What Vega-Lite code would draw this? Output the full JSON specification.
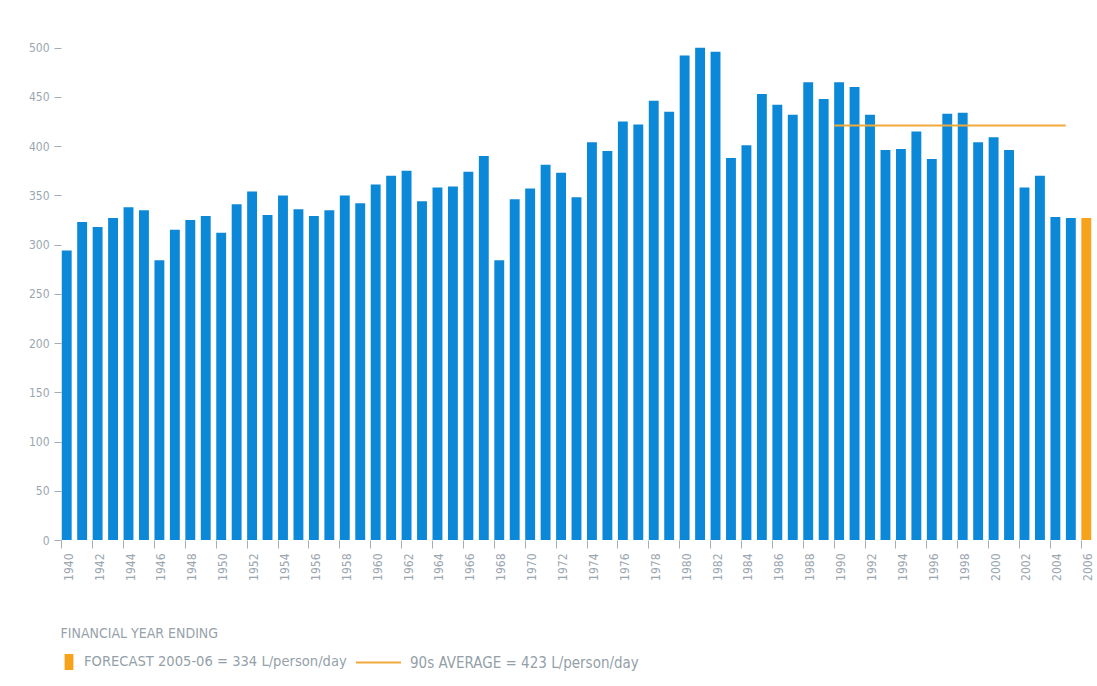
{
  "$schema": "https://vega.github.io/schema/vega-lite/v6.json",
  "width": 1031,
  "height": 512,
  "autosize": "none",
  "padding": {"left": 61, "top": 28, "right": 5, "bottom": 146},
  "background": "white",
  "config": {
    "view": {"stroke": null},
    "font": "Liberation Sans Narrow, DejaVu Sans Condensed, sans-serif"
  },
  "datasets": {
    "usage": [
      {"year": "1940", "litres": 294, "type": "Actual"},
      {"year": "1941", "litres": 323, "type": "Actual"},
      {"year": "1942", "litres": 318, "type": "Actual"},
      {"year": "1943", "litres": 327, "type": "Actual"},
      {"year": "1944", "litres": 338, "type": "Actual"},
      {"year": "1945", "litres": 335, "type": "Actual"},
      {"year": "1946", "litres": 284, "type": "Actual"},
      {"year": "1947", "litres": 315, "type": "Actual"},
      {"year": "1948", "litres": 325, "type": "Actual"},
      {"year": "1949", "litres": 329, "type": "Actual"},
      {"year": "1950", "litres": 312, "type": "Actual"},
      {"year": "1951", "litres": 341, "type": "Actual"},
      {"year": "1952", "litres": 354, "type": "Actual"},
      {"year": "1953", "litres": 330, "type": "Actual"},
      {"year": "1954", "litres": 350, "type": "Actual"},
      {"year": "1955", "litres": 336, "type": "Actual"},
      {"year": "1956", "litres": 329, "type": "Actual"},
      {"year": "1957", "litres": 335, "type": "Actual"},
      {"year": "1958", "litres": 350, "type": "Actual"},
      {"year": "1959", "litres": 342, "type": "Actual"},
      {"year": "1960", "litres": 361, "type": "Actual"},
      {"year": "1961", "litres": 370, "type": "Actual"},
      {"year": "1962", "litres": 375, "type": "Actual"},
      {"year": "1963", "litres": 344, "type": "Actual"},
      {"year": "1964", "litres": 358, "type": "Actual"},
      {"year": "1965", "litres": 359, "type": "Actual"},
      {"year": "1966", "litres": 374, "type": "Actual"},
      {"year": "1967", "litres": 390, "type": "Actual"},
      {"year": "1968", "litres": 284, "type": "Actual"},
      {"year": "1969", "litres": 346, "type": "Actual"},
      {"year": "1970", "litres": 357, "type": "Actual"},
      {"year": "1971", "litres": 381, "type": "Actual"},
      {"year": "1972", "litres": 373, "type": "Actual"},
      {"year": "1973", "litres": 348, "type": "Actual"},
      {"year": "1974", "litres": 404, "type": "Actual"},
      {"year": "1975", "litres": 395, "type": "Actual"},
      {"year": "1976", "litres": 425, "type": "Actual"},
      {"year": "1977", "litres": 422, "type": "Actual"},
      {"year": "1978", "litres": 446, "type": "Actual"},
      {"year": "1979", "litres": 435, "type": "Actual"},
      {"year": "1980", "litres": 492, "type": "Actual"},
      {"year": "1981", "litres": 500, "type": "Actual"},
      {"year": "1982", "litres": 496, "type": "Actual"},
      {"year": "1983", "litres": 388, "type": "Actual"},
      {"year": "1984", "litres": 401, "type": "Actual"},
      {"year": "1985", "litres": 453, "type": "Actual"},
      {"year": "1986", "litres": 442, "type": "Actual"},
      {"year": "1987", "litres": 432, "type": "Actual"},
      {"year": "1988", "litres": 465, "type": "Actual"},
      {"year": "1989", "litres": 448, "type": "Actual"},
      {"year": "1990", "litres": 465, "type": "Actual"},
      {"year": "1991", "litres": 460, "type": "Actual"},
      {"year": "1992", "litres": 432, "type": "Actual"},
      {"year": "1993", "litres": 396, "type": "Actual"},
      {"year": "1994", "litres": 397, "type": "Actual"},
      {"year": "1995", "litres": 415, "type": "Actual"},
      {"year": "1996", "litres": 387, "type": "Actual"},
      {"year": "1997", "litres": 433, "type": "Actual"},
      {"year": "1998", "litres": 434, "type": "Actual"},
      {"year": "1999", "litres": 404, "type": "Actual"},
      {"year": "2000", "litres": 409, "type": "Actual"},
      {"year": "2001", "litres": 396, "type": "Actual"},
      {"year": "2002", "litres": 358, "type": "Actual"},
      {"year": "2003", "litres": 370, "type": "Actual"},
      {"year": "2004", "litres": 328, "type": "Actual"},
      {"year": "2005", "litres": 327, "type": "Actual"},
      {"year": "2006", "litres": 327, "type": "FORECAST 2005-06 = 334 L/person/day"}
    ],
    "average": [
      {"year": "1990", "year_end": "2004", "litres": 421, "series": "90s AVERAGE = 423 L/person/day"}
    ]
  },
  "layer": [
    {
      "data": {"name": "usage"},
      "mark": {"type": "bar"},
      "encoding": {
        "x": {
          "field": "year",
          "type": "ordinal",
          "scale": {"paddingInner": 0.36, "paddingOuter": 0.05},
          "axis": {
            "title": "FINANCIAL YEAR ENDING",
            "titleAnchor": "start",
            "titleAlign": "left",
            "titleBaseline": "middle",
            "titleX": -1,
            "titleY": 93,
            "titleFontSize": 14,
            "titleFontWeight": "normal",
            "titleColor": "#97a2ab",
            "values": ["1940","1942","1944","1946","1948","1950","1952","1954","1956","1958","1960","1962","1964","1966","1968","1970","1972","1974","1976","1978","1980","1982","1984","1986","1988","1990","1992","1994","1996","1998","2000","2002","2004","2006"],
            "bandPosition": 0,
            "labelAngle": -90,
            "labelAlign": "right",
            "labelBaseline": "middle",
            "labelOffset": 2,
            "labelFontSize": 12,
            "labelColor": "#9ba6af",
            "labelPadding": 5,
            "tickColor": "#a3adb5",
            "tickSize": 8,
            "domain": false
          }
        },
        "y": {
          "field": "litres",
          "type": "quantitative",
          "scale": {"domain": [0, 520], "nice": false},
          "axis": {
            "title": null,
            "values": [0, 50, 100, 150, 200, 250, 300, 350, 400, 450, 500],
            "grid": false,
            "domain": false,
            "tickSize": 7,
            "tickColor": "#a3adb5",
            "labelPadding": 5,
            "labelFontSize": 12,
            "labelColor": "#9ba6af"
          }
        },
        "color": {
          "field": "type",
          "type": "nominal",
          "scale": {"domain": ["Actual", "FORECAST 2005-06 = 334 L/person/day"], "range": ["#0b88d8", "#f7a21b"]},
          "legend": {
            "values": ["FORECAST 2005-06 = 334 L/person/day"],
            "orient": "none",
            "legendX": 0,
            "legendY": 626,
            "title": null,
            "padding": 0,
            "symbolType": "M-0.55,-1H0.55V1H-0.55Z",
            "symbolSize": 256,
            "symbolStrokeWidth": 0,
            "symbolOpacity": 1,
            "labelOffset": 7,
            "labelFontSize": 14.6,
            "labelColor": "#949fa8",
            "labelLimit": 500
          }
        }
      }
    },
    {
      "data": {"name": "average"},
      "mark": {"type": "rule", "strokeWidth": 2},
      "encoding": {
        "x": {"field": "year", "type": "ordinal", "bandPosition": 0, "axis": {"title": "FINANCIAL YEAR ENDING"}},
        "x2": {"field": "year_end", "bandPosition": 1.55},
        "y": {"field": "litres", "type": "quantitative", "axis": {"title": null}},
        "stroke": {
          "field": "series",
          "type": "nominal",
          "scale": {"range": ["#f0a93a"]},
          "legend": {
            "orient": "none",
            "legendX": 294,
            "legendY": 611,
            "title": null,
            "padding": 0,
            "symbolType": "stroke",
            "symbolSize": 2025,
            "symbolStrokeWidth": 2,
            "labelOffset": 8,
            "labelFontSize": 15,
            "labelColor": "#949fa8",
            "labelLimit": 500
          }
        }
      }
    }
  ]
}
